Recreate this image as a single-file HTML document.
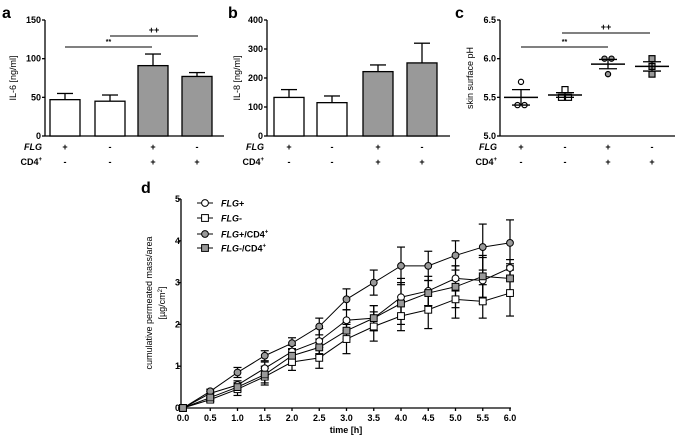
<!DOCTYPE html>
<html><head><meta charset="utf-8"><style>
body{margin:0;background:#fff}
svg{display:block;font-family:"Liberation Sans",Arial,sans-serif}
</style></head><body>
<svg id="fig" width="675" height="436" viewBox="0 0 675 436"></svg>
<script>
// Panel a data
const aGroups = ["FLG+","FLG-","FLG+/CD4+","FLG-/CD4+"];
const aVals = [47, 45, 91, 77];
const aErr = [8, 8, 15, 5];
const aTicks = [0, 50, 100, 150];
// Panel b data
const bVals = [133, 115, 222, 252];
const bErr = [27, 23, 23, 68];
const bTicks = [0, 100, 200, 300, 400];
// Panel c data
const cPoints = [[5.7,5.4,5.4],[5.6,5.5,5.5],[6.0,6.0,5.8],[6.0,5.9,5.8]];
const cMeans = [5.5, 5.53, 5.93, 5.9];
const cSem = [0.1, 0.03, 0.06, 0.06];
const cTicks = [5.0, 5.5, 6.0, 6.5];
const flgRow = ["+","-","+","-"];
const cd4Row = ["-","-","+","+"];
// Panel d data
const dTimes = [0,0.5,1,1.5,2,2.5,3,3.5,4,4.5,5,5.5,6];
const dNames = ["FLG+","FLG-","FLG+/CD4+","FLG-/CD4+"];
const dFlgPos = [0,0.35,0.55,0.95,1.35,1.6,2.1,2.15,2.65,2.8,3.1,3.05,3.35];
const dFlgNeg = [0,0.2,0.45,0.75,1.1,1.2,1.65,1.95,2.2,2.35,2.6,2.55,2.75];
const dFlgPosCd4 = [0,0.4,0.85,1.25,1.55,1.95,2.6,3.0,3.4,3.4,3.65,3.85,3.95];
const dFlgNegCd4 = [0,0.25,0.5,0.8,1.25,1.45,1.85,2.15,2.5,2.75,2.9,3.15,3.1];
const eFlgPos = [0,0.05,0.1,0.15,0.15,0.3,0.25,0.3,0.45,0.35,0.3,0.55,0.2];
const eFlgNeg = [0,0.05,0.15,0.2,0.2,0.25,0.35,0.35,0.35,0.45,0.45,0.4,0.55];
const eFlgPosCd4 = [0,0.05,0.12,0.12,0.13,0.2,0.25,0.3,0.45,0.35,0.35,0.55,0.55];
const eFlgNegCd4 = [0,0.05,0.1,0.2,0.15,0.2,0.2,0.3,0.5,0.3,0.5,0.5,0.35];
const dTicksY = [0,1,2,3,4,5];
const dTicksX = [0,0.5,1,1.5,2,2.5,3,3.5,4,4.5,5,5.5,6];

const svg = document.getElementById('fig');
const NS = 'http://www.w3.org/2000/svg';
function el(tag, attrs, text){const e=document.createElementNS(NS,tag);for(const k in attrs)e.setAttribute(k,attrs[k]);if(text!==undefined)e.textContent=text;svg.appendChild(e);return e;}
function line(x1,y1,x2,y2,w){return el('line',{x1,y1,x2,y2,stroke:'#000','stroke-width':w||1});}

// panel letters
[['a',2,18],['b',228,18],['c',455,18],['d',141,193]].forEach(p=>{
  const t=el('text',{x:p[1],y:p[2],'font-size':16,'font-weight':'bold'},p[0]);
  
  
});

function groupRows(xs, axisX){
  const f=el('text',{x:axisX-3,y:150,'font-size':9,'font-style':'italic','text-anchor':'end','font-weight':'bold'},'FLG');
  
  
  const c=el('text',{x:axisX-3,y:165,'font-size':9,'text-anchor':'end','font-weight':'bold'});
  
  
  c.innerHTML='CD4<tspan font-size="6" dy="-4">+</tspan>';
  xs.forEach((x,i)=>{
    el('text',{x,y:150,'font-size':9,'text-anchor':'middle','font-weight':'bold'},flgRow[i]);
    el('text',{x,y:165,'font-size':9,'text-anchor':'middle','font-weight':'bold'},cd4Row[i]);
  });
}
function yAxis(x,y0,y1,ticks,scale,fmt,label,labelX){
  line(x,y0,x,y1,1.3);
  ticks.forEach(t=>{const y=scale(t);line(x-3,y,x,y,1.3);
    const tx=el('text',{x:x-4,y:y+3,'font-size':9,'text-anchor':'end','font-weight':'bold'},fmt(t));
    
    });
  const lb=el('text',{x:labelX,y:(y0+y1)/2,'font-size':9,'text-anchor':'middle',transform:`rotate(-90 ${labelX} ${(y0+y1)/2})`},label);
  
  
}
function bars(xs,w,vals,errs,scale,baseY){
  vals.forEach((v,i)=>{
    const top=scale(v), et=scale(v+errs[i]);
    line(xs[i],top,xs[i],et,1.3); line(xs[i]-8,et,xs[i]+8,et,1.3);
    const r=el('rect',{x:xs[i]-w/2,y:top,width:w,height:baseY-top,fill:i<2?'#fff':'#999',stroke:'#000','stroke-width':1.3});
    
    
  });
}
function sig(x1,x2,y,txt){line(x1,y,x2,y);el('text',{x:(x1+x2)/2,y:y-3,'font-size':txt=='**'?7:9,'text-anchor':'middle','font-weight':'bold'},txt);}

// Panel a
const aS=v=>136-v*116/150; const aXs=[65,110,153,197];
yAxis(45,136,20,aTicks,aS,t=>t,'IL-6 [ng/ml]',16);
line(45,136,224,136,1.3);
bars(aXs,30,aVals,aErr,aS,136);
sig(65,152,47,'**'); sig(110,198,36,'++');
groupRows(aXs,45);

// Panel b
const bS=v=>136-v*116/400; const bXs=[289,332,378,422];
yAxis(267,136,20,bTicks,bS,t=>t,'IL-8 [ng/ml]',240);
line(267,136,450,136,1.3);
bars(bXs,30,bVals,bErr,bS,136);
groupRows(bXs,267);

// Panel c
const cS=v=>136-(v-5)*116/1.5; const cXs=[521,565,608,652];
yAxis(500,136,20,cTicks,cS,t=>t.toFixed(1),'skin surface pH',473);
line(500,136,675,136,1.3);
sig(521,608,47,'**'); sig(562,650,33,'++');
cPoints.forEach((pts,g)=>{
  const fill=g<2?'#fff':'#999';
  const offs=pts.map((p,i)=>pts.filter((q,j)=>j<i&&q===p).length);
  pts.forEach((p,i)=>{
    const same=pts.filter(q=>q===p).length;
    const dx=same>1?(offs[i]-(same-1)/2)*7:0;
    const x=cXs[g]+dx,y=cS(p);
    let m;
    if(g%2===0) m=el('circle',{cx:x,cy:y,r:2.6,fill,stroke:'#000','stroke-width':1.2});
    else m=el('rect',{x:x-3,y:y-3,width:6,height:6,fill,stroke:'#000','stroke-width':1.2});
    
    
  });
  const my=cS(cMeans[g]);
  line(cXs[g]-17,my,cXs[g]+17,my,1.5);
  line(cXs[g]-9,cS(cMeans[g]+cSem[g]),cXs[g]+9,cS(cMeans[g]+cSem[g]),1.3);
  line(cXs[g]-9,cS(cMeans[g]-cSem[g]),cXs[g]+9,cS(cMeans[g]-cSem[g]),1.3);
  line(cXs[g],cS(cMeans[g]+cSem[g]),cXs[g],cS(cMeans[g]-cSem[g]),1.3);
});
groupRows(cXs,500);

// Panel d
const dx=t=>183+t*(510-183)/6; const dy=v=>408-v*(408-199)/5;
line(181,199,181,408,1.3); line(181,408,511,408,1.3);
dTicksY.forEach(t=>{line(178,dy(t),181,dy(t),1.3);
  const tx=el('text',{x:180,y:dy(t)+3,'font-size':9,'text-anchor':'end','font-weight':'bold'},t);
  
  });
dTicksX.forEach(t=>{line(dx(t),408,dx(t),411,1.3);
  const tx=el('text',{x:dx(t),y:421,'font-size':9,'text-anchor':'middle','font-weight':'bold'},t.toFixed(1));
  
  });
const xt=el('text',{x:346,y:433,'font-size':9,'text-anchor':'middle','font-weight':'bold'},'time [h]');


const yl=el('text',{x:152,y:303,'font-size':9,'text-anchor':'middle',transform:'rotate(-90 152 303)'},'cumulative permeated mass/area');


const yl2=el('text',{x:165,y:303,'font-size':9,'text-anchor':'middle',transform:'rotate(-90 165 303)'});
yl2.innerHTML='[µg/cm<tspan font-size="6" dy="-3">2</tspan><tspan dy="3">]</tspan>';



const series=[[dFlgPos,eFlgPos,'#fff','c'],[dFlgNeg,eFlgNeg,'#fff','s'],[dFlgPosCd4,eFlgPosCd4,'#999','c'],[dFlgNegCd4,eFlgNegCd4,'#999','s']];
function marker(x,y,fill,shape,name){
  let m;
  if(shape==='c') m=el('circle',{cx:x,cy:y,r:3.4,fill,stroke:'#000','stroke-width':1});
  else m=el('rect',{x:x-3.4,y:y-3.4,width:6.8,height:6.8,fill,stroke:'#000','stroke-width':1});
  
  
}
series.forEach(([vals,errs])=>{
  vals.forEach((v,i)=>{ if(errs[i]>0){const x=dx(dTimes[i]);
    line(x,dy(v-errs[i]),x,dy(v+errs[i]),1.2);line(x-4,dy(v-errs[i]),x+4,dy(v-errs[i]),1.2);line(x-4,dy(v+errs[i]),x+4,dy(v+errs[i]),1.2);}});
});
series.forEach(([vals,errs,fill,shape],s)=>{
  const p=el('polyline',{points:vals.map((v,i)=>dx(dTimes[i])+','+dy(v)).join(' '),fill:'none',stroke:'#000','stroke-width':1});
  
  
  vals.forEach((v,i)=>marker(dx(dTimes[i]),dy(v),fill,shape,'series-point'));
});
// legend
const legY=[203,218,234,248];
const legHtml=['<tspan font-style="italic">FLG</tspan>+','<tspan font-style="italic">FLG</tspan>-','<tspan font-style="italic">FLG</tspan>+/CD4<tspan font-size="6" dy="-4">+</tspan>','<tspan font-style="italic">FLG</tspan>-/CD4<tspan font-size="6" dy="-4">+</tspan>'];
series.forEach(([v,e,fill,shape],i)=>{
  line(197,legY[i],213,legY[i]);
  marker(205,legY[i],fill,shape,'legend-marker');
  const t=el('text',{x:221,y:legY[i]+3.5,'font-size':9,'font-weight':'bold'});
  t.innerHTML=legHtml[i];
  
  
});
</script>
</body></html>
